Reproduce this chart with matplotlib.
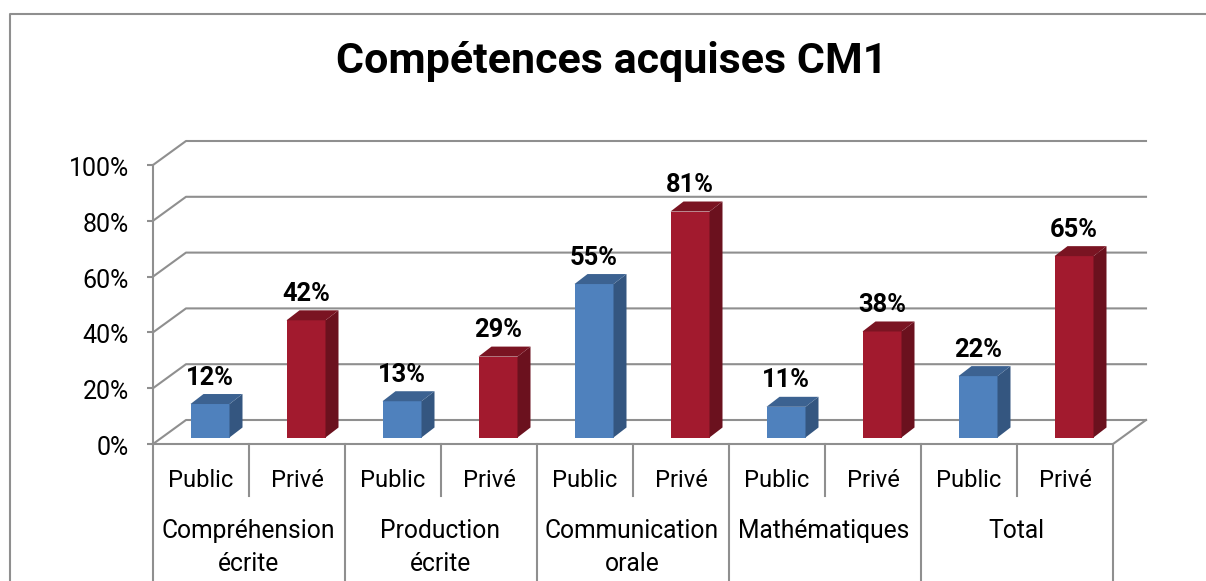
import matplotlib
matplotlib.use('Agg')
import matplotlib.pyplot as plt
from matplotlib.transforms import ScaledTranslation

groupes = ['Compréhension\nécrite', 'Production\nécrite', 'Communication\norale', 'Mathématiques', 'Total']
secteurs = ['Public', 'Privé']
public = [12, 13, 55, 11, 22]
prive = [42, 29, 81, 38, 65]
yticks = [0, 20, 40, 60, 80, 100]

W, H = 1206, 581
L, R, T, B = 153, 1113, 165, 444
my_dpi = 100
GRIS = '#8f8f8f'
FONT = 'Roboto'

fig = plt.figure(figsize=(W/my_dpi, H/my_dpi), dpi=my_dpi)
fig.patch.set_facecolor('white')
# cadre du graphique
fig.add_artist(plt.Line2D([10/W, 10/W, 1], [0, 1-14/H, 1-14/H], color=GRIS, lw=1.5))

ax = fig.add_axes([L/W, 1-B/H, (R-L)/W, (B-T)/H])
ax.set_xlim(0, 10)
ax.set_ylim(0, 100)
ax.patch.set_visible(False)
for s in ['top', 'right', 'bottom']:
    ax.spines[s].set_visible(False)
ax.spines['left'].set_color(GRIS)
ax.spines['left'].set_linewidth(1.5)

# conversion pixels -> donnees
px = 10/(R-L)
py = 100/(B-T)
dx = 33*px
dy = 24*py

# mur du fond et sol
for v in yticks:
    ax.plot([0, dx, 10+dx], [v, v+dy, v+dy], color=GRIS, lw=1.5, clip_on=False, zorder=1)
ax.plot([0, 10, 10+dx], [0, 0, dy], color=GRIS, lw=1.5, clip_on=False, zorder=1)

# separateurs sous l'axe
for k in range(11):
    bas = -137*py if k % 2 == 0 else -52*py
    ax.plot([k, k], [0, bas], color=GRIS, lw=1.5, clip_on=False, zorder=1)


def barre(x, v, c_face, c_cote, c_haut):
    larg = 39*px
    bdx = 13*px
    bdy = 10*py
    base = 6.5*py
    g = x - larg/2
    d = x + larg/2
    h = base + v
    ax.fill([g, d, d, g], [base, base, h, h], color=c_face, lw=0, clip_on=False, zorder=3)
    ax.fill([d, d+bdx, d+bdx, d], [base, base+bdy, h+bdy, h], color=c_cote, lw=0, clip_on=False, zorder=3)
    ax.fill([g, d, d+bdx, g+bdx], [h, h, h+bdy, h+bdy], color=c_haut, lw=0, clip_on=False, zorder=3)
    ax.annotate('%d%%' % v, xy=(x, h), xytext=(0, 26.5), textcoords='offset pixels',
                ha='center', va='center', fontsize=18.4, fontweight='bold', family=FONT,
                color='black', zorder=4, annotation_clip=False)


decal = 9*px
for i in range(len(groupes)):
    barre(2*i+0.5+decal, public[i], '#4f81bd', '#345680', '#3c6291')
    barre(2*i+1.5+decal, prive[i], '#a21a2e', '#6b111e', '#7a1422')

ax.set_yticks(yticks)
ax.set_yticklabels(['%d%%' % v for v in yticks], fontsize=18, family=FONT)
ax.tick_params(axis='y', length=4.5, width=1.5, color=GRIS, pad=13)
# labels un peu plus bas que les graduations
for lab in ax.get_yticklabels():
    lab.set_transform(lab.get_transform() + ScaledTranslation(0, -1.5/my_dpi, fig.dpi_scale_trans))

ax.set_xticks([k+0.5 for k in range(10)])
ax.set_xticklabels(secteurs*5, fontsize=17, family=FONT)
ax.tick_params(axis='x', length=0, pad=18)

for i, g in enumerate(groupes):
    ax.text(2*i+1-0.01, -75*py, g, ha='center', va='top', fontsize=17.7, family=FONT,
            linespacing=1.45, clip_on=False)

fig.text(612/W, 1-62/H, 'Compétences acquises CM1', ha='center', va='center',
         fontsize=31, fontweight='bold', family=FONT, color='black')

fig.savefig('out.png', dpi=my_dpi)
